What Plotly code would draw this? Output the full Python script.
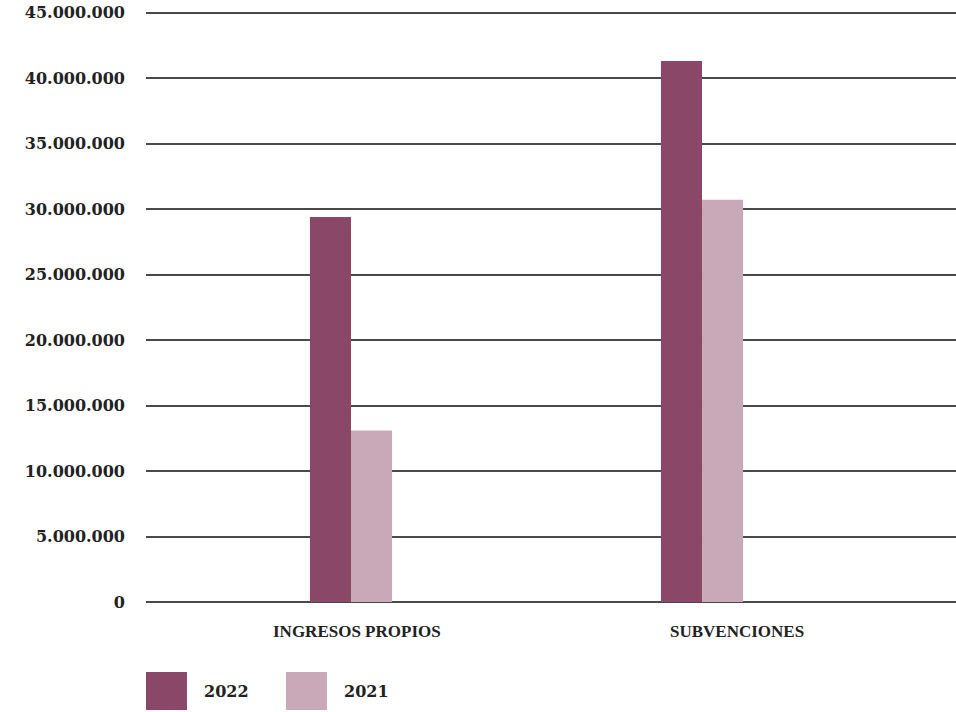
import plotly.graph_objects as go

categories = ["INGRESOS PROPIOS", "SUBVENCIONES"]
series_names = ["2022", "2021"]
values_2022 = [29_400_000, 41_300_000]
values_2021 = [13_100_000, 30_700_000]
series_colors = ["#8B4768", "#C9A9B8"]
y_tickvals = [0, 5_000_000, 10_000_000, 15_000_000, 20_000_000, 25_000_000,
              30_000_000, 35_000_000, 40_000_000, 45_000_000]
y_ticktext = ["0", "5.000.000", "10.000.000", "15.000.000", "20.000.000", "25.000.000",
              "30.000.000", "35.000.000", "40.000.000", "45.000.000"]

num_font = dict(family="DejaVu Serif", size=16, color="#222222", weight="bold")
cap_font = dict(family="Liberation Serif", size=17, color="#222222", weight="bold")

fig = go.Figure()
for name, vals, col in zip(series_names, [values_2022, values_2021], series_colors):
    fig.add_trace(go.Bar(x=categories, y=vals, name=name, marker=dict(color=col, line=dict(width=0)),
                         showlegend=False, hoverinfo="skip"))

fig.update_layout(
    width=956, height=712,
    margin=dict(l=146, r=0, t=6, b=110),
    paper_bgcolor="white", plot_bgcolor="white",
    barmode="group", bargap=0.766, bargroupgap=0,
    xaxis=dict(range=[-0.584, 1.7236], showticklabels=False, showgrid=False,
               zeroline=False, showline=False, ticks=""),
    yaxis=dict(range=[0, 45_500_000], tickvals=y_tickvals, ticktext=y_ticktext,
               showgrid=True, gridcolor="#4a4a4a", gridwidth=1.5,
               zeroline=True, zerolinecolor="#4a4a4a", zerolinewidth=1.5,
               showline=False, ticks="", tickfont=num_font, ticklabelstandoff=20),
    font=dict(family="Liberation Serif"),
)

# category labels
label_shifts = [6, 35]
for cat, sh in zip(categories, label_shifts):
    fig.add_annotation(x=cat, xref="x", y=0, yref="paper", yshift=-29, xshift=sh,
                       text=cat, showarrow=False, font=cap_font,
                       xanchor="center", yanchor="middle")

# custom legend
legend_x = [0.0, 0.1728]
for name, col, lx in zip(series_names, series_colors, legend_x):
    fig.add_shape(type="rect", xref="paper", yref="paper",
                  x0=lx, x1=lx + 0.0506, y0=-0.1812, y1=-0.1174,
                  fillcolor=col, line=dict(width=0))
    fig.add_annotation(x=lx + 0.0506 + 0.019, xref="paper", y=-0.151, yref="paper",
                       text=name, showarrow=False, font=num_font,
                       xanchor="left", yanchor="middle")

fig.write_html("out.html", config={"displayModeBar": False},
               post_script="document.body.style.margin='0';document.body.style.overflow='hidden';")
